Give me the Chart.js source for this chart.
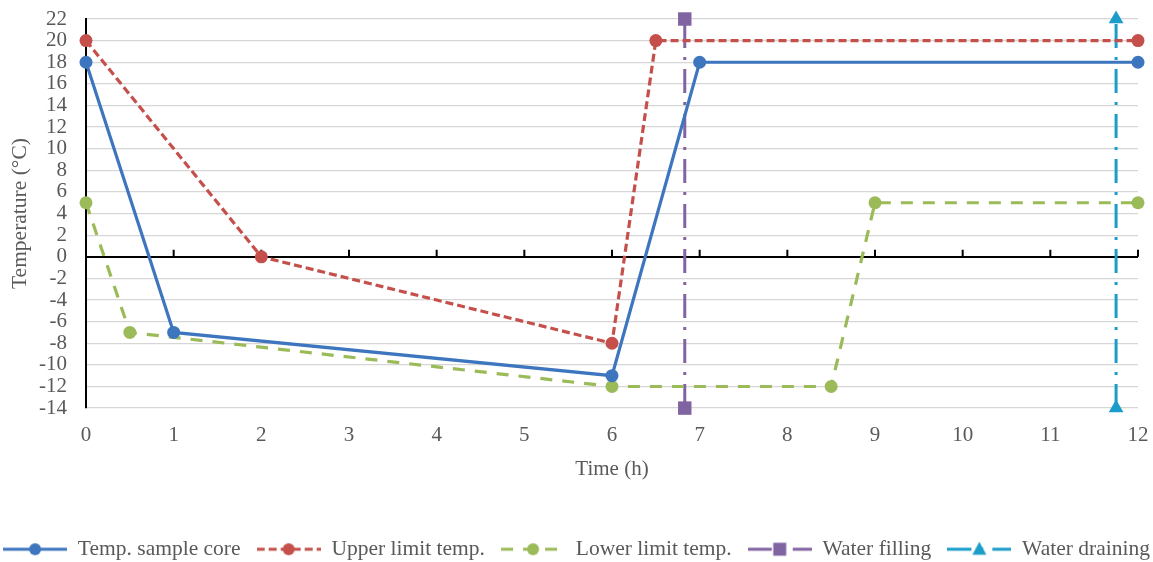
<!DOCTYPE html>
<html>
<head>
<meta charset="utf-8">
<script src="https://cdn.jsdelivr.net/npm/chart.js@4.4.1/dist/chart.umd.min.js"></script>
<style>
  html, body { margin: 0; padding: 0; background: #fff; }
  #wrap { width: 1153px; height: 562px; }
</style>
</head>
<body>
<div id="wrap"><canvas id="tempChart" width="1153" height="562"></canvas></div>
<script>
// Series data (time in h, temperature in °C)
const coreTime = [0, 1, 6, 7, 12];
const coreTemp = [18, -7, -11, 18, 18];
const upperTime = [0, 2, 6, 6.5, 12];
const upperTemp = [20, 0, -8, 20, 20];
const lowerTime = [0, 0.5, 6, 8.5, 9, 12];
const lowerTemp = [5, -7, -12, -12, 5, 5];
const fillTime = [6.83, 6.83];
const fillTemp = [-14, 22];
const drainTime = [11.75, 11.75];
const drainTemp = [-14, 22];

const seriesNames = ["Temp. sample core", "Upper limit temp.", "Lower limit temp.", "Water filling", "Water draining"];
const xTickLabels = [0, 1, 2, 3, 4, 5, 6, 7, 8, 9, 10, 11, 12];
const yTickLabels = [-14, -12, -10, -8, -6, -4, -2, 0, 2, 4, 6, 8, 10, 12, 14, 16, 18, 20, 22];

const BLUE = "#3d76be", RED = "#c5504b", GREEN = "#9bbb59", PURPLE = "#8064a2", CYAN = "#1b9cc9";
const FONT = "'Liberation Serif', 'Times New Roman', serif";

function toPoints(xs, ys) {
    return xs.map((x, i) => ({ x: x, y: ys[i] }));
}

// Builds a small "line + marker" picture for the legend
function legendSample(color, dash, shape) {
    const len = 64;
    const c = document.createElement("canvas");
    c.width = len;
    c.height = 22;
    const g = c.getContext("2d");
    const cy = 11, cx = len / 2;
    g.strokeStyle = color;
    g.fillStyle = color;
    g.lineWidth = 3;
    g.setLineDash(dash);
    g.beginPath();
    g.moveTo(0, cy);
    g.lineTo(len, cy);
    g.stroke();
    g.setLineDash([]);
    g.beginPath();
    if (shape === "circle") {
        g.arc(cx, cy, 6, 0, Math.PI * 2);
    } else if (shape === "rect") {
        g.rect(cx - 6.5, cy - 6.5, 13, 13);
    } else {
        g.moveTo(cx, cy - 7.5);
        g.lineTo(cx + 7, cy + 5.5);
        g.lineTo(cx - 7, cy + 5.5);
        g.closePath();
    }
    g.fill();
    return c;
}

const legendImages = [
    legendSample(BLUE, [], "circle"),
    legendSample(RED, [8, 4], "circle"),
    legendSample(GREEN, [12, 10], "circle"),
    legendSample(PURPLE, [24, 9, 3, 9], "rect"),
    legendSample(CYAN, [24, 9, 3, 9], "triangle")
];

// Small upward tick marks on the zero line
const zeroTicks = {
    id: "zeroTicks",
    beforeDatasetsDraw(chart) {
        const { ctx, scales: { x, y } } = chart;
        const y0 = y.getPixelForValue(0);
        ctx.save();
        ctx.strokeStyle = "#000";
        ctx.lineWidth = 2;
        ctx.beginPath();
        xTickLabels.forEach(v => {
            if (v === 0) return;
            const px = x.getPixelForValue(v);
            ctx.moveTo(px, y0);
            ctx.lineTo(px, y0 - 7);
        });
        ctx.stroke();
        ctx.restore();
    }
};

Chart.defaults.font.family = FONT;
Chart.defaults.color = "#595959";

const ctx = document.getElementById("tempChart").getContext("2d");
new Chart(ctx, {
    type: "line",
    data: {
        datasets: [
            {
                label: seriesNames[0], data: toPoints(coreTime, coreTemp),
                borderColor: BLUE, backgroundColor: BLUE, borderWidth: 3.2,
                pointRadius: 6.5, pointHoverRadius: 6.5, pointBorderWidth: 0, clip: false
            },
            {
                label: seriesNames[1], data: toPoints(upperTime, upperTemp),
                borderColor: RED, backgroundColor: RED, borderWidth: 3.2, borderDash: [8, 4],
                pointRadius: 6.5, pointHoverRadius: 6.5, pointBorderWidth: 0, clip: false
            },
            {
                label: seriesNames[2], data: toPoints(lowerTime, lowerTemp),
                borderColor: GREEN, backgroundColor: GREEN, borderWidth: 3.2, borderDash: [12, 10],
                pointRadius: 6.5, pointHoverRadius: 6.5, pointBorderWidth: 0, clip: false
            },
            {
                label: seriesNames[3], data: toPoints(fillTime, fillTemp),
                borderColor: PURPLE, backgroundColor: PURPLE, borderWidth: 3, borderDash: [24, 9, 3, 9],
                pointStyle: "rect", pointRadius: 9.5, pointHoverRadius: 9.5, pointBorderWidth: 0, clip: false
            },
            {
                label: seriesNames[4], data: toPoints(drainTime, drainTemp),
                borderColor: CYAN, backgroundColor: CYAN, borderWidth: 3, borderDash: [24, 9, 3, 9],
                pointStyle: "triangle", pointRadius: 8.5, pointHoverRadius: 8.5, pointBorderWidth: 0, clip: false
            }
        ]
    },
    options: {
        responsive: false,
        animation: false,
        layout: { padding: { top: 19, left: 0, right: 0, bottom: -8 } },
        plugins: {
            tooltip: { enabled: false },
            legend: {
                position: "bottom",
                labels: {
                    usePointStyle: true,
                    pointStyleWidth: 64,
                    padding: 0,
                    color: "#595959",
                    font: { size: 21.5, family: FONT },
                    generateLabels(chart) {
                        const last = chart.data.datasets.length - 1;
                        return chart.data.datasets.map((ds, i) => ({
                            // trailing spaces give the gap before the next entry
                            text: i < last ? ds.label + "   " : ds.label,
                            pointStyle: legendImages[i],
                            fillStyle: ds.borderColor,
                            strokeStyle: ds.borderColor,
                            lineWidth: 0,
                            fontColor: "#595959",
                            hidden: false,
                            datasetIndex: i
                        }));
                    }
                }
            }
        },
        scales: {
            x: {
                type: "linear",
                min: 0, max: 12,
                afterFit(scale) { scale.paddingRight = 15; },
                afterBuildTicks(scale) { scale.ticks = xTickLabels.map(v => ({ value: v })); },
                ticks: { padding: 14.5, autoSkip: false, maxRotation: 0, color: "#595959", font: { size: 21 } },
                grid: { display: false, drawTicks: false },
                border: { display: false },
                title: {
                    display: true, text: "Time (h)", color: "#595959",
                    font: { size: 21 }, padding: { top: -5.5, bottom: 56.5 }
                }
            },
            y: {
                min: -14, max: 22,
                afterFit(scale) {
                    scale.width = 86;
                    scale.paddingTop = 0;
                    scale.paddingBottom = 0;
                },
                afterBuildTicks(scale) { scale.ticks = yTickLabels.map(v => ({ value: v })); },
                ticks: { padding: 19, autoSkip: false, color: "#595959", font: { size: 21 } },
                grid: {
                    drawTicks: false,
                    color: c => c.tick && c.tick.value === 0 ? "#000000" : "#d6d6d6",
                    lineWidth: c => c.tick && c.tick.value === 0 ? 2 : 1.3
                },
                border: { display: true, color: "#000000", width: 2 },
                title: {
                    display: true, text: "Temperature (°C)", color: "#595959",
                    font: { size: 21.5 }, padding: { top: 7, bottom: 4 }
                }
            }
        }
    },
    plugins: [zeroTicks]
});
</script>
</body>
</html>
